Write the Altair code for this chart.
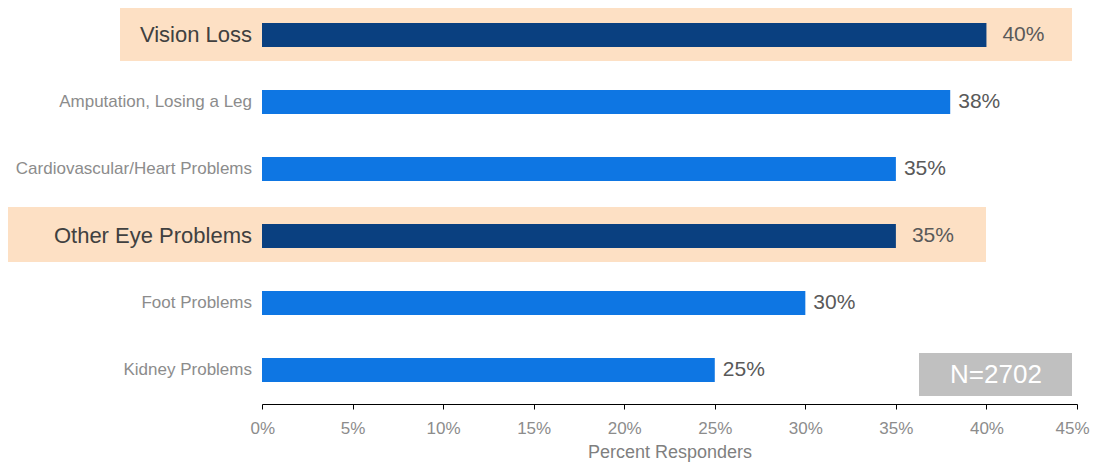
import altair as alt
import pandas as pd

categories = [
    "Vision Loss",
    "Amputation, Losing a Leg",
    "Cardiovascular/Heart  Problems",
    "Other Eye Problems",
    "Foot Problems",
    "Kidney Problems",
]
percent = [40, 38, 35, 35, 30, 25]
highlighted = [True, False, False, True, False, False]
x_ticks = [0, 5, 10, 15, 20, 25, 30, 35, 40, 45]
sample_size = 2702

FONT = "Liberation Sans"

df = pd.DataFrame({"cat": categories, "pct": percent, "hl": highlighted})
df["label"] = [f"{v}%" for v in percent]

y_enc = alt.Y(
    "cat:N",
    sort=categories,
    axis=None,
    scale=alt.Scale(paddingInner=0.642, paddingOuter=0.276, align=0.405),
)
x_enc = alt.X(
    "pct:Q",
    scale=alt.Scale(domain=[0, 45], nice=False, zero=True),
    axis=alt.Axis(
        values=x_ticks,
        labelExpr="datum.value + '%'",
        labelFlush=True,
        labelFlushOffset=12,
        labelOverlap=False,
        title="Percent Responders",
        grid=False,
        domainColor="#000000",
        domainWidth=1.2,
        tickColor="#000000",
        tickSize=5,
        labelColor="#8c8c8c",
        labelFontSize=17,
        labelFont=FONT,
        labelPadding=11,
        titleColor="#7f7f7f",
        titleFontSize=18,
        titleFont=FONT,
        titleFontWeight="normal",
        titlePadding=7,
    ),
)

base = alt.Chart(df)

hl_vision = (
    base.transform_filter(alt.datum.cat == "Vision Loss")
    .mark_bar(size=55, yOffset=-1.5, color="#fde0c4")
    .encode(y=y_enc, x=alt.value(-142), x2=alt.value(810))
)
hl_other = (
    base.transform_filter(alt.datum.cat == "Other Eye Problems")
    .mark_bar(size=55, yOffset=-1.5, color="#fde0c4")
    .encode(y=y_enc, x=alt.value(-255), x2=alt.value(724))
)

bars = base.mark_bar().encode(
    y=y_enc,
    x=x_enc,
    color=alt.condition("datum.hl", alt.value("#0a4080"), alt.value("#0e76e3")),
)

cat_norm = (
    base.transform_filter("!datum.hl")
    .mark_text(align="right", baseline="middle", font=FONT, fontSize=17, color="#8c8c8c")
    .encode(y=y_enc, x=alt.value(-10), text="cat:N")
)
cat_hl = (
    base.transform_filter("datum.hl")
    .mark_text(align="right", baseline="middle", font=FONT, fontSize=22, color="#404040")
    .encode(y=y_enc, x=alt.value(-10), text="cat:N")
)

val_norm = (
    base.transform_filter("!datum.hl")
    .mark_text(align="left", baseline="middle", dx=8, font=FONT, fontSize=21, color="#595959")
    .encode(y=y_enc, x=x_enc, text="label:N")
)
val_hl = (
    base.transform_filter("datum.hl")
    .mark_text(align="left", baseline="middle", dx=16, font=FONT, fontSize=21, color="#595959")
    .encode(y=y_enc, x=x_enc, text="label:N")
)

ndf = pd.DataFrame({"n": [sample_size]})
n_box = alt.Chart(ndf).mark_rect(color="#c0c0c0").encode(
    x=alt.value(657), x2=alt.value(810), y=alt.value(345), y2=alt.value(388)
)
n_text = (
    alt.Chart(ndf)
    .transform_calculate(t="'N=' + datum.n")
    .mark_text(align="center", baseline="middle", font=FONT, fontSize=26, color="#ffffff")
    .encode(x=alt.value(734), y=alt.value(367), text="t:N")
)

chart = (
    alt.layer(hl_vision, hl_other, bars, cat_norm, cat_hl, val_norm, val_hl, n_box, n_text)
    .properties(
        width=815,
        height=396,
        autosize=alt.AutoSizeParams(type="none"),
        padding={"left": 254, "top": 0, "right": 13, "bottom": 58},
    )
    .configure_view(stroke=None)
)

chart.save("out.html", embed_options={"renderer": "svg", "actions": False})
